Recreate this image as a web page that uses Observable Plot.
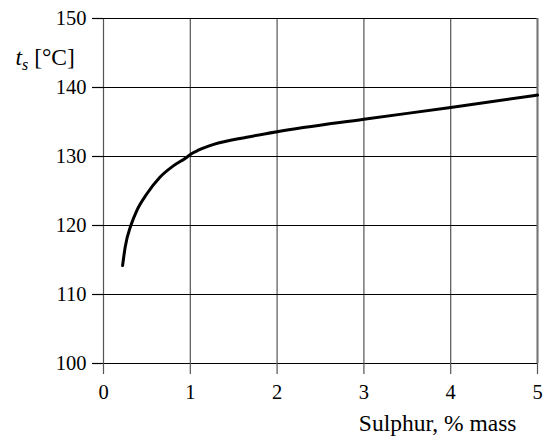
<!DOCTYPE html>
<html>
<head>
<meta charset="utf-8">
<script src="https://cdn.jsdelivr.net/npm/d3@7"></script>
<script src="https://cdn.jsdelivr.net/npm/@observablehq/plot@0.6"></script>
<style>
  html, body { margin: 0; padding: 0; background: #fff; }
  svg text, svg tspan { font-family: "Liberation Serif", "DejaVu Serif", serif !important; }
</style>
</head>
<body>
<div id="chart"></div>
<script>
const sulphur = [0.22, 0.25, 0.315, 0.385, 0.5, 0.65, 0.8, 0.96, 1.0, 1.1, 1.27, 1.65, 2, 3, 4, 5];
const temp = [114.2, 116.9, 120.0, 122.2, 124.6, 127.0, 128.6, 129.9, 130.3, 130.95, 131.75, 132.8, 133.6, 135.4, 137.1, 138.9];
const xTicks = [0, 1, 2, 3, 4, 5];
const yTicks = [100, 110, 120, 130, 140, 150];
const xLabel = "Sulphur, % mass";

const data = sulphur.map((s, i) => ({s, t: temp[i]}));
const font = "Liberation Serif";

const plot = Plot.plot({
  width: 543,
  height: 436,
  marginLeft: 103,
  marginRight: 6,
  marginTop: 18,
  marginBottom: 73,
  style: {background: "#fff", color: "#000"},
  x: {domain: [0, 5]},
  y: {domain: [100, 150]},
  marks: [
    Plot.gridX(xTicks, {stroke: "#555", strokeOpacity: 1, strokeWidth: 1.2}),
    Plot.gridY(yTicks, {stroke: "#000", strokeOpacity: 1, strokeWidth: 1.2}),
    Plot.ruleX([5], {stroke: "#777", strokeWidth: 2}),
    Plot.axisX(xTicks, {tickSize: 11, tickPadding: 10, stroke: "#555", strokeWidth: 1.2, label: null, fontSize: 20.5, fontFamily: font, tickFormat: d => String(d)}),
    Plot.axisY(yTicks, {tickSize: 11, tickPadding: 6, stroke: "#000", strokeWidth: 1.2, label: null, fontSize: 20.5, fontFamily: font, tickFormat: d => String(d)}),
    Plot.line(data, {x: "s", y: "t", stroke: "#000", strokeWidth: 3, curve: "monotone-x"}),
    Plot.text([xLabel], {frameAnchor: "bottom-right", textAnchor: "end", lineAnchor: "middle", dx: -21, dy: 60, fontSize: 23.5, fontFamily: font}),
    Plot.text(["t_s [°C]"], {frameAnchor: "top-left", textAnchor: "start", lineAnchor: "middle", dx: -88, dy: 39, fontSize: 23.5, fontFamily: font, className: "ylab"})
  ]
});

d3.select(plot).attr("font-family", font);
d3.select(plot).select(".ylab text")
  .html('<tspan font-style="italic">t</tspan><tspan font-style="italic" font-size="16" dy="5">s</tspan><tspan dy="-5"> [°C]</tspan>');

document.getElementById("chart").appendChild(plot);
</script>
</body>
</html>
